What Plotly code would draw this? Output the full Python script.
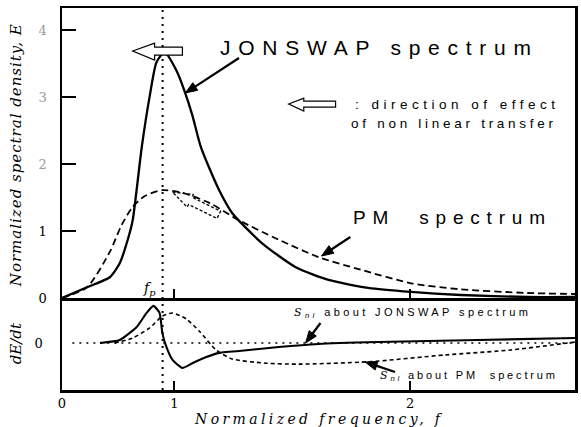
import json
import math
import plotly.graph_objects as go

# ---------------- data ----------------
# Upper panel: normalized spectral density E
f_jonswap = [0.523, 0.629, 0.726, 0.768, 0.802, 0.823, 0.861, 0.895, 0.924, 0.958, 1.008,
             1.042, 1.076, 1.110, 1.148, 1.190, 1.245, 1.371, 1.515, 1.654, 1.823, 2.004,
             2.215, 2.498, 2.70]
E_jonswap = [0.0, 0.16, 0.31, 0.52, 0.87, 1.16, 2.24, 3.01, 3.52, 3.67, 3.40,
             3.10, 2.73, 2.28, 1.94, 1.61, 1.27, 0.82, 0.46, 0.27, 0.15, 0.09,
             0.045, 0.015, 0.015]

f_pm = [0.523, 0.629, 0.726, 0.776, 0.823, 0.873, 0.949, 1.034, 1.148, 1.274, 1.443,
        1.612, 1.793, 2.004, 2.215, 2.498, 2.70]
E_pm = [0.0, 0.16, 0.69, 1.09, 1.36, 1.52, 1.61, 1.57, 1.42, 1.16, 0.87,
        0.61, 0.42, 0.22, 0.13, 0.075, 0.06]

# Lower panel: nonlinear transfer dE/dt (arbitrary units)
f_snl_jonswap = [0.684, 0.768, 0.840, 0.882, 0.911, 0.937, 0.949, 0.966, 0.992, 1.034,
                 1.076, 1.135, 1.190, 1.316, 1.443, 1.612, 1.865, 2.287, 2.700]
snl_jonswap = [0.0, 0.064, 0.34, 0.64, 0.79, 0.64, 0.21, -0.085, -0.36, -0.53,
               -0.43, -0.30, -0.21, -0.15, -0.085, -0.02, 0.02, 0.064, 0.106]

f_snl_pm = [0.747, 0.823, 0.895, 0.949, 0.992, 1.051, 1.105, 1.177, 1.245, 1.388,
            1.527, 1.823, 2.148, 2.426, 2.700]
snl_pm = [0.0, 0.106, 0.32, 0.574, 0.638, 0.51, 0.255, -0.15, -0.34, -0.43,
          -0.45, -0.40, -0.255, -0.15, 0.02]

f_peak = 0.950
x_tickvals = [0.523, 1, 2]
x_ticktext = ["0", "1", "2"]
y_tickvals = [0, 1, 2, 3, 4]
y_ticktext = ["0", "1", "<span style='color:#9a9a9a'>2</span>",
              "<span style='color:#9a9a9a'>3</span>", "<span style='color:#9a9a9a'>4</span>"]

# ---------------- layout geometry ----------------
W, H = 581, 427
ML, MR, MT, MB = 62, 3, 8, 37
PW, PH = W - ML - MR, H - MT - MB
split = 92 / PH  # lower panel fraction
XR = [0.523, 2.70]
YR = [0.0, 4.33]
Y2R = [-1.0, 0.957]
Y_TOP_PX = (MT, H - MB - 92)       # pixel extent of upper panel
Y_BOT_PX = (H - MB - 92, H - MB)   # pixel extent of lower panel


def px(xp, yp):
    """pixel position -> paper coordinates"""
    return (xp - ML) / PW, (H - MB - yp) / PH


def dx(xp):
    return XR[0] + (xp - ML) / PW * (XR[1] - XR[0])


def dy(yp, lower=False):
    top, bot = Y_BOT_PX if lower else Y_TOP_PX
    r = Y2R if lower else YR
    return r[0] + (bot - yp) / (bot - top) * (r[1] - r[0])


SERIF = "DejaVu Serif, Liberation Serif, serif"
SANS = "Liberation Sans Narrow, Liberation Sans, Arial, sans-serif"

fig = go.Figure()
fig.add_trace(go.Scatter(x=f_jonswap, y=E_jonswap, mode="lines", xaxis="x", yaxis="y",
                         line=dict(color="black", width=2.3, shape="spline", smoothing=0.6),
                         showlegend=False, hoverinfo="skip"))
fig.add_trace(go.Scatter(x=f_pm, y=E_pm, mode="lines", xaxis="x", yaxis="y",
                         line=dict(color="black", width=1.8, dash="7px,4px", shape="spline", smoothing=0.7),
                         showlegend=False, hoverinfo="skip"))
fig.add_trace(go.Scatter(x=f_snl_jonswap, y=snl_jonswap, mode="lines", xaxis="x2", yaxis="y2",
                         line=dict(color="black", width=2.1, shape="spline", smoothing=0.5),
                         showlegend=False, hoverinfo="skip"))
fig.add_trace(go.Scatter(x=f_snl_pm, y=snl_pm, mode="lines", xaxis="x2", yaxis="y2",
                         line=dict(color="black", width=1.6, dash="4px,3px", shape="spline", smoothing=0.6),
                         showlegend=False, hoverinfo="skip"))

shapes = [
    # peak frequency dotted line through both panels
    dict(type="line", xref="x", yref="paper", x0=f_peak, x1=f_peak, y0=0, y1=1,
         line=dict(color="black", width=2, dash="2px,5px"), layer="below"),
    # zero line of lower panel
    dict(type="line", xref="x2", yref="y2", x0=0.567, x1=2.70, y0=0, y1=0,
         line=dict(color="black", width=1.6, dash="2px,5px"), layer="below"),
]


def hollow_arrow(pts, dash=None, fill="white", width=1.2):
    path = "M " + " L ".join(f"{a},{b}" for a, b in pts) + " Z"
    return dict(type="path", xref="x", yref="y", path=path, fillcolor=fill,
                line=dict(color="black", width=width, dash=dash), layer="above")


# hollow arrow on JONSWAP peak
shapes.append(hollow_arrow([(0.823, 3.687), (0.916, 3.806), (0.916, 3.746), (1.034, 3.746),
                            (1.034, 3.627), (0.916, 3.627), (0.916, 3.552)]))
# hollow arrow used as key
shapes.append(hollow_arrow([(1.485, 2.896), (1.549, 2.985), (1.549, 2.940), (1.684, 2.940),
                            (1.684, 2.851), (1.549, 2.851), (1.549, 2.791)]))
# dashed hollow arrow on PM peak
shapes.append(hollow_arrow([(0.992, 1.582), (1.080, 1.545), (1.075, 1.504), (1.196, 1.296),
                            (1.181, 1.188), (1.060, 1.397), (1.054, 1.357)],
                           dash="3px,2px", fill="rgba(0,0,0,0)", width=1.3))


def pointer(tail, tip, lower=False, head_len=12, head_half=4.5):
    """solid pointer arrow from tail to tip (pixel positions of the decoration)"""
    (x0, y0), (x1, y1) = tail, tip
    L = math.hypot(x1 - x0, y1 - y0)
    ux, uy = (x1 - x0) / L, (y1 - y0) / L
    bx, by = x1 - head_len * ux, y1 - head_len * uy
    nx, ny = -uy, ux
    yref = "y2" if lower else "y"
    shapes.append(dict(type="line", xref="x", yref=yref,
                       x0=dx(x0), y0=dy(y0, lower), x1=dx(bx + 2 * ux), y1=dy(by + 2 * uy, lower),
                       line=dict(color="black", width=2.2), layer="above"))
    pts = [(x1, y1), (bx + head_half * nx, by + head_half * ny), (bx - head_half * nx, by - head_half * ny)]
    path = "M " + " L ".join(f"{dx(a)},{dy(b, lower)}" for a, b in pts) + " Z"
    shapes.append(dict(type="path", xref="x", yref=yref, path=path, fillcolor="black",
                       line=dict(color="black", width=1), layer="above"))


pointer((240, 58), (186, 93))               # to JONSWAP
pointer((352, 237), (323, 256))             # to PM
pointer((322, 323), (307, 343), lower=True)  # to Snl JONSWAP
pointer((397, 372), (367, 362), lower=True)  # to Snl PM

annotations = []


def text(s, xp, yp, size, family=SANS, xanchor="left", angle=0, color="black"):
    xa, ya = px(xp, yp)
    annotations.append(dict(text=s, x=xa, y=ya, xref="paper", yref="paper", showarrow=False,
                            xanchor=xanchor, yanchor="middle", align="left" if xanchor == "left" else "center",
                            textangle=angle, font=dict(size=size, family=family, color=color)))


text("JONSWAP spectrum", 219, 47, 21)
text("PM\u00a0 spectrum", 353, 217, 19)
text(": direction of effect", 355, 104, 13.5)
text("of non linear transfer", 351, 123, 13.5)
text("<span style='font-family:DejaVu Serif;font-style:italic'>S</span><sub><i>nl</i></sub> about JONSWAP spectrum", 293, 313, 11)
text("<span style='font-family:DejaVu Serif;font-style:italic'>S</span><sub><i>nl</i></sub> about PM\u00a0 spectrum", 380, 376, 11)
text("<i>Normalized frequency, f</i>", 193, 419, 14, family=SERIF)
text("<i>f</i><sub><i>p</i></sub>", 150, 289, 14, family=SERIF, xanchor="center")
text("<i>Normalized spectral density, E</i>", 16, 155, 15, family=SERIF, xanchor="center", angle=-90)
text("<i>dE/dt</i>", 16, 343, 15, family=SERIF, xanchor="center", angle=-90)

axis_line = dict(showline=True, linecolor="black", linewidth=2.5, showgrid=False, zeroline=False)

fig.update_layout(
    width=W, height=H, margin=dict(l=ML, r=MR, t=MT, b=MB),
    paper_bgcolor="white", plot_bgcolor="white", showlegend=False,
    xaxis=dict(domain=[0, 1], range=XR, anchor="y", mirror=True,
               tickmode="array", tickvals=[1, 2], ticks="inside", ticklen=9, tickwidth=2,
               tickcolor="black", showticklabels=False, **axis_line),
    yaxis=dict(domain=[split, 1], range=YR, anchor="x", mirror=True,
               tickmode="array", tickvals=y_tickvals, ticktext=y_ticktext,
               ticks="inside", ticklen=14, tickwidth=2.5, tickcolor="black",
               ticklabelstandoff=10, tickfont=dict(family=SERIF, size=13, color="black"), **axis_line),
    xaxis2=dict(domain=[0, 1], range=XR, anchor="y2", matches="x",
                tickmode="array", tickvals=x_tickvals, ticktext=x_ticktext,
                ticks="inside", ticklen=9, tickwidth=2, tickcolor="black",
                ticklabelstandoff=0, tickfont=dict(family=SERIF, size=13, color="black"), **axis_line),
    yaxis2=dict(domain=[0, split], range=Y2R, anchor="x2", mirror=True,
                tickmode="array", tickvals=[0], ticktext=["0"], ticks="",
                ticklabelstandoff=14, tickfont=dict(family=SERIF, size=13, color="black"), **axis_line),
    shapes=shapes, annotations=annotations,
)

# target pixel widths of letter-spaced labels (the original uses wide letter spacing)
spacing_targets = [
    ["start", "JONSWAP spectrum", 311],
    ["start", "PM", 192],
    ["start", ": direction", 200],
    ["start", "of non linear", 202],
    ["has", "about JONSWAP", 234],
    ["has", "about PM", 175],
    ["start", "Normalized frequency", 245],
    ["start", "Normalized spectral", 262],
]

js = """
document.body.style.margin = '0px';
var targets = %s;
document.querySelectorAll('text.annotation-text').forEach(function(t){
  var s = (t.textContent || '').replace(/\\u200b/g, '');
  targets.forEach(function(p){
    var ok = p[0] === 'start' ? s.indexOf(p[1]) === 0 : s.indexOf(p[1]) >= 0;
    if (ok) {
      t.style.letterSpacing = '0px';
      var w = t.getComputedTextLength();
      var n = s.length;
      t.style.letterSpacing = ((p[2] - w) / Math.max(n - 1, 1)) + 'px';
    }
  });
});
""" % json.dumps(spacing_targets)

fig.write_html("out.html", post_script=js, config={"displayModeBar": False, "staticPlot": True})

# remove the default page margin so the figure sits at the window's corner
with open("out.html", "r", encoding="utf-8") as fh:
    html = fh.read()
html = html.replace("<head>", "<head><style>html,body{margin:0;padding:0;overflow:hidden;}</style>", 1)
with open("out.html", "w", encoding="utf-8") as fh:
    fh.write(html)
